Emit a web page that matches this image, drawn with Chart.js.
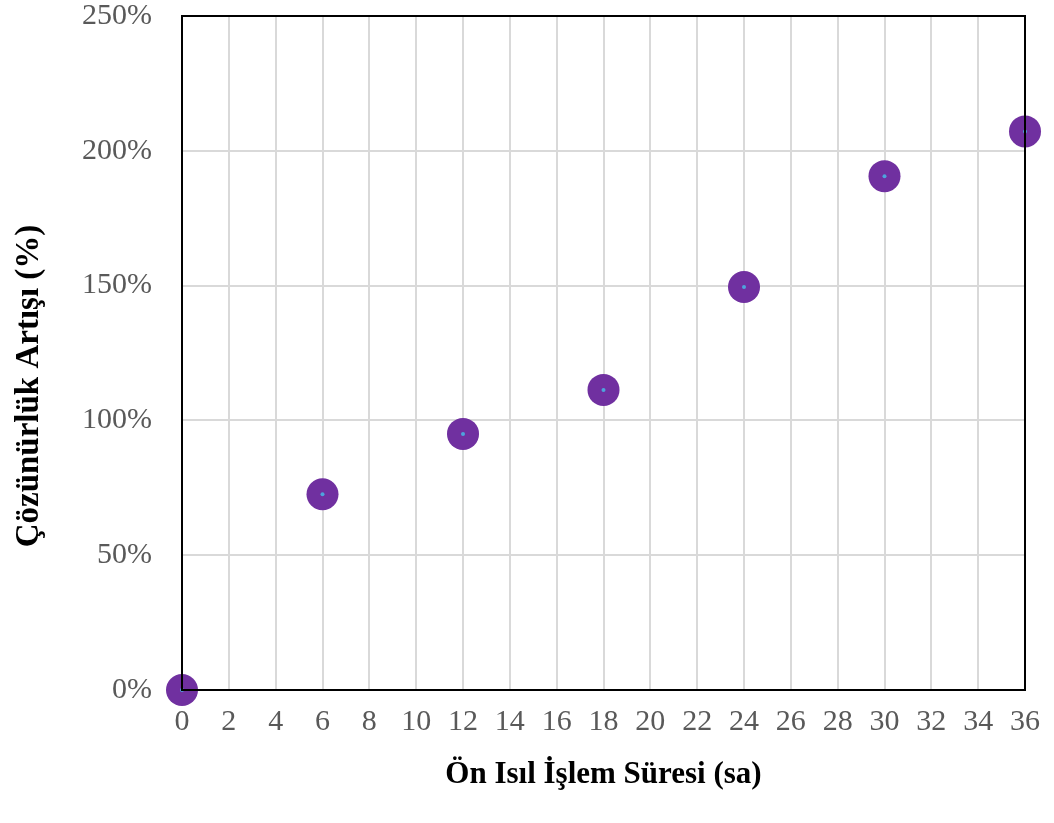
<!DOCTYPE html>
<html>
<head>
<meta charset="utf-8">
<script src="https://cdn.jsdelivr.net/npm/chart.js@4"></script>
<style>
  html, body { margin: 0; padding: 0; background: #fff; }
  #wrap { width: 1054px; height: 823px; }
</style>
</head>
<body>
<div id="wrap"><canvas id="myChart" width="1054" height="823"></canvas></div>
<script>
// Data points
const hours = [0, 6, 12, 18, 24, 30, 36];
const increase = [0, 72.6, 95.0, 111.3, 149.5, 190.6, 207.2];

const xTitle = 'Ön Isıl İşlem Süresi (sa)';
// trailing no-break spaces push the rotated title down a bit, like the original
const yTitle = 'Çözünürlük Artışı (%)' + '\u00a0'.repeat(8);

const points = hours.map((h, i) => ({ x: h, y: increase[i] }));

// Frame around the plot area
const framePlugin = {
  id: 'frame',
  afterDatasetsDraw(chart) {
    const { ctx, chartArea: a } = chart;
    ctx.save();
    ctx.strokeStyle = '#000';
    ctx.lineWidth = 2;
    ctx.strokeRect(a.left, a.top, a.right - a.left, a.bottom - a.top);
    ctx.restore();
  }
};

const tickFont = { family: "'Liberation Serif', 'Times New Roman', serif", size: 30 };
const titleFont = { family: "'Liberation Serif', 'Times New Roman', serif", size: 31, weight: 'bold' };
const yTitleFont = { family: "'Liberation Serif', 'Times New Roman', serif", size: 33, weight: 'bold' };

const ctx = document.getElementById('myChart').getContext('2d');
const myChart = new Chart(ctx, {
  type: 'scatter',
  data: {
    datasets: [
      {
        data: points,
        pointRadius: 2,
        pointBackgroundColor: '#4ea3dc',
        pointBorderWidth: 0,
        clip: false
      },
      {
        data: points,
        pointRadius: 16,
        pointBackgroundColor: '#7030a0',
        pointBorderWidth: 0,
        clip: false
      }
    ]
  },
  options: {
    responsive: false,
    animation: false,
    layout: { padding: { top: 16, right: 29, left: 0, bottom: 0 } },
    plugins: { legend: { display: false }, tooltip: { enabled: false } },
    scales: {
      x: {
        type: 'linear',
        min: 0,
        max: 36,
        afterFit: s => { s.height = 133; },
        ticks: { stepSize: 2, color: '#595959', font: tickFont, padding: 14, maxRotation: 0 },
        grid: { color: '#d9d9d9', lineWidth: 2, drawTicks: false },
        border: { color: '#000', width: 2 },
        title: { display: true, text: xTitle, color: '#000', font: titleFont, padding: { top: 0, bottom: 29 } }
      },
      y: {
        min: 0,
        max: 250,
        afterFit: s => { s.width = 182; s.paddingTop = 16; s.paddingBottom = 0; },
        ticks: { stepSize: 50, color: '#595959', font: tickFont, padding: 30, callback: v => v + '%' },
        grid: { color: '#d9d9d9', lineWidth: 2, drawTicks: false },
        border: { color: '#000', width: 2 },
        title: { display: true, text: yTitle, color: '#000', font: yTitleFont, padding: { top: 10, bottom: 0 } }
      }
    }
  },
  plugins: [framePlugin]
});
</script>
</body>
</html>
